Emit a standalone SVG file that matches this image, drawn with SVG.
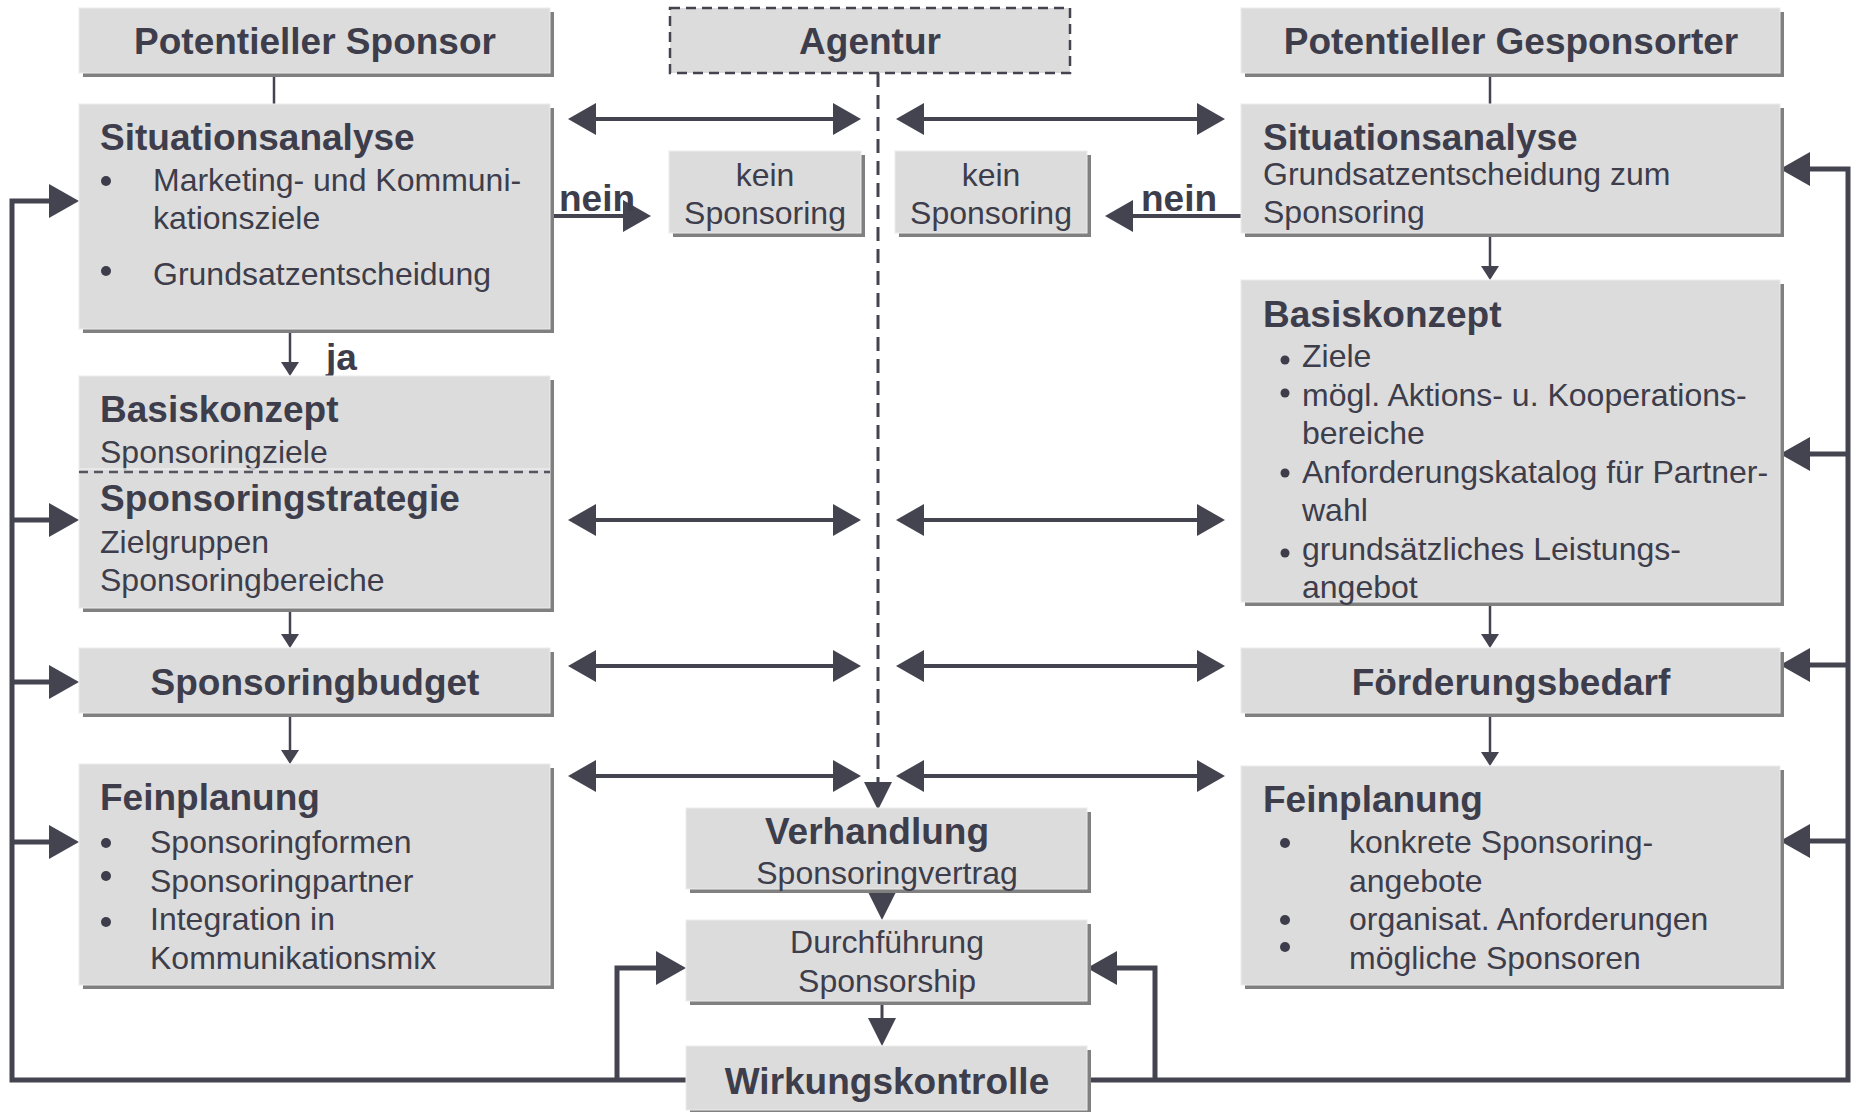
<svg xmlns="http://www.w3.org/2000/svg" width="1854" height="1112" viewBox="0 0 1854 1112">
<style>
.box{fill:#dcdcdc;stroke:#ececec;stroke-width:1}
.sh{fill:#808080}
.b{font-family:"Liberation Sans",Arial,sans-serif;font-weight:bold;font-size:37px;fill:#3d3d4b}
.r{font-family:"Liberation Sans",Arial,sans-serif;font-size:32px;fill:#3d3d4b}
.c{text-anchor:middle}
.ln{stroke:#444451;fill:none}
.dot{fill:#3d3d4b}
</style>
<defs>
<marker id="ah" markerUnits="userSpaceOnUse" markerWidth="28" markerHeight="32" refX="4" refY="16" orient="auto-start-reverse"><path d="M0,0 L28,16 L0,32 z" fill="#444451"/></marker>
<marker id="fb" markerUnits="userSpaceOnUse" markerWidth="30" markerHeight="34" refX="4" refY="17" orient="auto"><path d="M0,0 L30,17 L0,34 z" fill="#444451"/></marker>
<marker id="sm" markerUnits="userSpaceOnUse" markerWidth="14" markerHeight="18" refX="2" refY="9" orient="auto"><path d="M0,0 L14,9 L0,18 z" fill="#444451"/></marker>
<marker id="md" markerUnits="userSpaceOnUse" markerWidth="28" markerHeight="28" refX="4" refY="14" orient="auto"><path d="M0,0 L28,14 L0,28 z" fill="#444451"/></marker>
<clipPath id="clipBK"><rect x="79" y="376" width="471" height="94"/></clipPath>
</defs>

<g id="connectors">
<path class="ln" d="M878,73 V786" stroke-width="3" stroke-dasharray="14,8" marker-end="url(#md)"/>
<path class="ln" d="M274,73 V104" stroke-width="2.5"/>
<path class="ln" d="M290,329 V364" stroke-width="2.5" marker-end="url(#sm)"/>
<path class="ln" d="M290,608 V636" stroke-width="2.5" marker-end="url(#sm)"/>
<path class="ln" d="M290,713 V752" stroke-width="2.5" marker-end="url(#sm)"/>
<path class="ln" d="M1490,73 V104" stroke-width="2.5"/>
<path class="ln" d="M1490,233 V268" stroke-width="2.5" marker-end="url(#sm)"/>
<path class="ln" d="M1490,602 V636" stroke-width="2.5" marker-end="url(#sm)"/>
<path class="ln" d="M1490,713 V754" stroke-width="2.5" marker-end="url(#sm)"/>
<path class="ln" d="M882,889 V896" stroke-width="3" marker-end="url(#md)"/>
<path class="ln" d="M882,1001 V1022" stroke-width="3" marker-end="url(#md)"/>
<path class="ln" d="M592,119 H837" stroke-width="4" marker-start="url(#ah)" marker-end="url(#ah)"/>
<path class="ln" d="M920,119 H1201" stroke-width="4" marker-start="url(#ah)" marker-end="url(#ah)"/>
<path class="ln" d="M592,520 H837" stroke-width="4" marker-start="url(#ah)" marker-end="url(#ah)"/>
<path class="ln" d="M920,520 H1201" stroke-width="4" marker-start="url(#ah)" marker-end="url(#ah)"/>
<path class="ln" d="M592,666 H837" stroke-width="4" marker-start="url(#ah)" marker-end="url(#ah)"/>
<path class="ln" d="M920,666 H1201" stroke-width="4" marker-start="url(#ah)" marker-end="url(#ah)"/>
<path class="ln" d="M592,776 H837" stroke-width="4" marker-start="url(#ah)" marker-end="url(#ah)"/>
<path class="ln" d="M920,776 H1201" stroke-width="4" marker-start="url(#ah)" marker-end="url(#ah)"/>
<path class="ln" d="M550,216 H627" stroke-width="4" marker-end="url(#ah)"/>
<path class="ln" d="M1241,216 H1129" stroke-width="4" marker-end="url(#ah)"/>
<path class="ln" d="M686,1080 H12 V201 H53" stroke-width="5" marker-end="url(#fb)"/>
<path class="ln" d="M12,520 H53" stroke-width="5" marker-end="url(#fb)"/>
<path class="ln" d="M12,682 H53" stroke-width="5" marker-end="url(#fb)"/>
<path class="ln" d="M12,842 H53" stroke-width="5" marker-end="url(#fb)"/>
<path class="ln" d="M617,1080 V968 H660" stroke-width="5" marker-end="url(#fb)"/>
<path class="ln" d="M1087,1080 H1848 V169 H1806" stroke-width="5" marker-end="url(#fb)"/>
<path class="ln" d="M1848,454 H1806" stroke-width="5" marker-end="url(#fb)"/>
<path class="ln" d="M1848,665 H1806" stroke-width="5" marker-end="url(#fb)"/>
<path class="ln" d="M1848,841 H1806" stroke-width="5" marker-end="url(#fb)"/>
<path class="ln" d="M1155,1080 V968 H1113" stroke-width="5" marker-end="url(#fb)"/>
<text class="b" x="559" y="211" font-size="29">nein</text>
<text class="b" x="1141" y="211" font-size="29">nein</text>
<text class="b" x="326" y="370" font-size="30">ja</text>
</g>

<g id="pot-sponsor">
<rect class="sh" x="83" y="12" width="471" height="65"/>
<rect class="box" x="79" y="8" width="471" height="65"/>
<text class="b c" x="315" y="54">Potentieller Sponsor</text>
</g>

<g id="agentur">
<rect x="670" y="8" width="400" height="65" fill="#dcdcdc" stroke="#444451" stroke-width="2.5" stroke-dasharray="10,6"/>
<text class="b c" x="870" y="54">Agentur</text>
</g>

<g id="pot-gesponsorter">
<rect class="sh" x="1245" y="12" width="539" height="65"/>
<rect class="box" x="1241" y="8" width="539" height="65"/>
<text class="b c" x="1511" y="54">Potentieller Gesponsorter</text>
</g>

<g id="sa-left">
<rect class="sh" x="83" y="108" width="471" height="225"/>
<rect class="box" x="79" y="104" width="471" height="225"/>
<text class="b" x="100" y="150">Situationsanalyse</text>
<circle class="dot" cx="106" cy="181" r="5"/>
<text class="r" x="153" y="191">Marketing- und Kommuni-</text>
<text class="r" x="153" y="229">kationsziele</text>
<circle class="dot" cx="106" cy="271" r="5"/>
<text class="r" x="153" y="285">Grundsatzentscheidung</text>
</g>

<g id="kein-left">
<rect class="sh" x="673" y="155" width="192" height="82"/>
<rect class="box" x="669" y="151" width="192" height="82"/>
<text class="r c" x="765" y="186">kein</text>
<text class="r c" x="765" y="224">Sponsoring</text>
</g>

<g id="kein-right">
<rect class="sh" x="899" y="155" width="192" height="82"/>
<rect class="box" x="895" y="151" width="192" height="82"/>
<text class="r c" x="991" y="186">kein</text>
<text class="r c" x="991" y="224">Sponsoring</text>
</g>

<g id="sa-right">
<rect class="sh" x="1245" y="108" width="539" height="129"/>
<rect class="box" x="1241" y="104" width="539" height="129"/>
<text class="b" x="1263" y="150">Situationsanalyse</text>
<text class="r" x="1263" y="185">Grundsatzentscheidung zum</text>
<text class="r" x="1263" y="223">Sponsoring</text>
</g>

<g id="basis-strategie-left">
<rect class="sh" x="83" y="380" width="471" height="232"/>
<rect class="box" x="79" y="376" width="471" height="232"/>
<text class="b" x="100" y="422">Basiskonzept</text>
<text class="r" x="100" y="463" clip-path="url(#clipBK)">Sponsoringziele</text>
<line x1="79" y1="469" x2="550" y2="469" stroke="#ececec" stroke-width="1.5"/>
<line x1="79" y1="472" x2="550" y2="472" stroke="#555560" stroke-width="2.5" stroke-dasharray="9,6"/>
<text class="b" x="100" y="511">Sponsoringstrategie</text>
<text class="r" x="100" y="553">Zielgruppen</text>
<text class="r" x="100" y="591">Sponsoringbereiche</text>
</g>

<g id="basis-right">
<rect class="sh" x="1245" y="284" width="539" height="322"/>
<rect class="box" x="1241" y="280" width="539" height="322"/>
<text class="b" x="1263" y="327">Basiskonzept</text>
<circle class="dot" cx="1285" cy="360" r="4.5"/>
<text class="r" x="1302" y="367">Ziele</text>
<circle class="dot" cx="1285" cy="393" r="4.5"/>
<text class="r" x="1302" y="406">mögl. Aktions- u. Kooperations-</text>
<text class="r" x="1302" y="444">bereiche</text>
<circle class="dot" cx="1285" cy="473" r="4.5"/>
<text class="r" x="1302" y="483">Anforderungskatalog für Partner-</text>
<text class="r" x="1302" y="521">wahl</text>
<circle class="dot" cx="1285" cy="553" r="4.5"/>
<text class="r" x="1302" y="560">grundsätzliches Leistungs-</text>
<text class="r" x="1302" y="598">angebot</text>
</g>

<g id="budget">
<rect class="sh" x="83" y="652" width="471" height="65"/>
<rect class="box" x="79" y="648" width="471" height="65"/>
<text class="b c" x="315" y="695">Sponsoringbudget</text>
</g>

<g id="foerderung">
<rect class="sh" x="1245" y="652" width="539" height="65"/>
<rect class="box" x="1241" y="648" width="539" height="65"/>
<text class="b c" x="1511" y="695">Förderungsbedarf</text>
</g>

<g id="fein-left">
<rect class="sh" x="83" y="768" width="471" height="221"/>
<rect class="box" x="79" y="764" width="471" height="221"/>
<text class="b" x="100" y="810">Feinplanung</text>
<circle class="dot" cx="106" cy="843" r="5"/>
<text class="r" x="150" y="853">Sponsoringformen</text>
<circle class="dot" cx="106" cy="876" r="5"/>
<text class="r" x="150" y="892">Sponsoringpartner</text>
<circle class="dot" cx="106" cy="922" r="5"/>
<text class="r" x="150" y="930">Integration in</text>
<text class="r" x="150" y="969">Kommunikationsmix</text>
</g>

<g id="fein-right">
<rect class="sh" x="1245" y="770" width="539" height="219"/>
<rect class="box" x="1241" y="766" width="539" height="219"/>
<text class="b" x="1263" y="812">Feinplanung</text>
<circle class="dot" cx="1285" cy="843" r="5"/>
<text class="r" x="1349" y="853">konkrete Sponsoring-</text>
<text class="r" x="1349" y="892">angebote</text>
<circle class="dot" cx="1285" cy="920" r="5"/>
<text class="r" x="1349" y="930">organisat. Anforderungen</text>
<circle class="dot" cx="1285" cy="947" r="5"/>
<text class="r" x="1349" y="969">mögliche Sponsoren</text>
</g>

<g id="verhandlung">
<rect class="sh" x="690" y="812" width="401" height="81"/>
<rect class="box" x="686" y="808" width="401" height="81"/>
<text class="b c" x="877" y="844">Verhandlung</text>
<text class="r c" x="887" y="884">Sponsoringvertrag</text>
</g>

<g id="durchfuehrung">
<rect class="sh" x="690" y="924" width="401" height="81"/>
<rect class="box" x="686" y="920" width="401" height="81"/>
<text class="r c" x="887" y="953">Durchführung</text>
<text class="r c" x="887" y="992">Sponsorship</text>
</g>

<g id="wirkungskontrolle">
<rect class="sh" x="690" y="1050" width="401" height="62"/>
<rect class="box" x="686" y="1046" width="401" height="64"/>
<text class="b c" x="887" y="1094">Wirkungskontrolle</text>
</g>
</svg>
